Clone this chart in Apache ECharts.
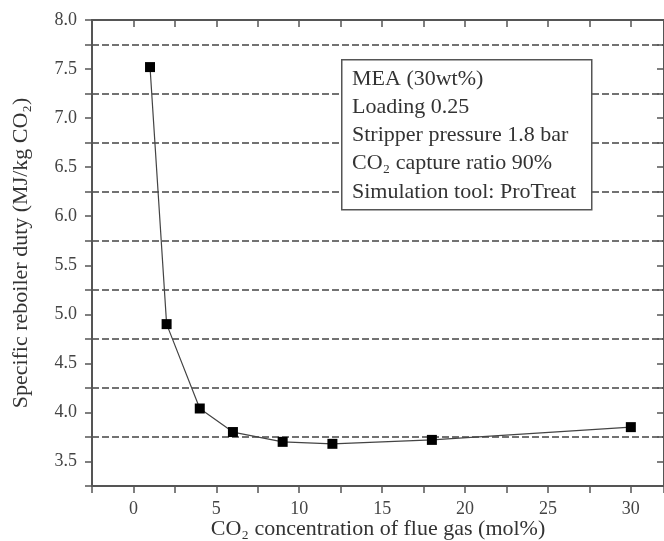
<!DOCTYPE html>
<html>
<head>
<meta charset="utf-8">
<script src="https://cdn.jsdelivr.net/npm/echarts@6/dist/echarts.min.js"></script>
<style>
  html, body { margin: 0; padding: 0; background: #fff; }
  #chart { width: 664px; height: 541px; }
</style>
</head>
<body>
<div id="chart"></div>
<script>
// CO2 concentration of flue gas (mol%)
const co2Conc = [1, 2, 4, 6, 9, 12, 18, 30]
// specific reboiler duty (MJ/kg CO2)
const duty = [7.52, 4.90, 4.04, 3.80, 3.70, 3.68, 3.72, 3.85]
// text in the info box
const infoLines = [
    'MEA (30wt%)',
    'Loading 0.25',
    'Stripper pressure 1.8 bar',
    'CO\u2082 capture ratio 90%',
    'Simulation tool: ProTreat'
]

const serif = '"Liberation Serif", "DejaVu Serif", serif'
const axisColor = '#555'

const chart = echarts.init(document.getElementById('chart'))

const option = {
    animation: false,
    backgroundColor: '#fff',
    grid: { left: 92, right: 0, top: 20, bottom: 55, outerBoundsMode: 'none', containLabel: false },
    xAxis: [{
        type: 'value',
        min: -2.5,
        max: 32,
        interval: 2.5,
        name: 'CO\u2082 concentration of flue gas (mol%)',
        nameLocation: 'middle',
        nameGap: 32,
        nameMoveOverlap: false,
        nameTextStyle: { fontFamily: serif, fontSize: 22, color: '#333' },
        axisLine: { onZero: false, lineStyle: { color: axisColor, width: 2 } },
        axisTick: { inside: false, length: 7, lineStyle: { color: axisColor, width: 1.5 } },
        axisLabel: {
            fontFamily: serif, fontSize: 18, color: '#444', margin: 14,
            formatter: v => (v % 5 === 0 ? String(v) : '')
        },
        splitLine: { show: false }
    }, {
        type: 'value',
        position: 'top',
        min: -2.5,
        max: 32,
        interval: 2.5,
        axisLine: { onZero: false, lineStyle: { color: axisColor, width: 2 } },
        axisTick: { inside: true, length: 7, lineStyle: { color: axisColor, width: 1.5 } },
        axisLabel: { show: false },
        splitLine: { show: false }
    }],
    yAxis: [{
        type: 'value',
        min: 3.25,
        max: 8,
        interval: 0.25,
        name: 'Specific reboiler duty (MJ/kg CO\u2082)',
        nameLocation: 'middle',
        nameGap: 60,
        nameTextStyle: { fontFamily: serif, fontSize: 22, color: '#333' },
        axisLine: { onZero: false, lineStyle: { color: axisColor, width: 2 } },
        axisTick: { inside: false, length: 7, lineStyle: { color: axisColor, width: 1.5 } },
        axisLabel: {
            fontFamily: serif, fontSize: 18, color: '#444', margin: 15,
            formatter: v => (Math.abs(v * 2 - Math.round(v * 2)) < 1e-6 ? v.toFixed(1) : '')
        },
        // only the quarter lines (3.75, 4.25, ...) are drawn dashed
        splitLine: {
            show: true,
            lineStyle: { color: ['#444', 'rgba(0,0,0,0)'], width: 1.5, type: [7, 3] }
        }
    }, {
        type: 'value',
        position: 'right',
        min: 3.25,
        max: 8,
        interval: 0.25,
        axisLine: { onZero: false, lineStyle: { color: axisColor, width: 2 } },
        axisTick: { inside: true, length: 7, lineStyle: { color: axisColor, width: 1.5 } },
        axisLabel: { show: false },
        splitLine: { show: false }
    }],
    series: [{
        type: 'line',
        data: co2Conc.map((x, i) => [x, duty[i]]),
        symbol: 'rect',
        symbolSize: 10,
        showSymbol: true,
        itemStyle: { color: '#000' },
        lineStyle: { color: '#444', width: 1.2 },
        z: 5
    }],
    graphic: [{
        type: 'rect',
        left: 341,
        top: 59,
        z: 100,
        shape: { x: 0, y: 0, width: 250, height: 150 },
        style: { fill: '#fff', stroke: '#555', lineWidth: 1.5 }
    }].concat(infoLines.map((t, i) => ({
        type: 'text',
        left: 352,
        top: 68 + i * 28.2,
        z: 101,
        style: { text: t, font: '22px ' + serif, fill: '#333' }
    })))
}

chart.setOption(option)
</script>
</body>
</html>
